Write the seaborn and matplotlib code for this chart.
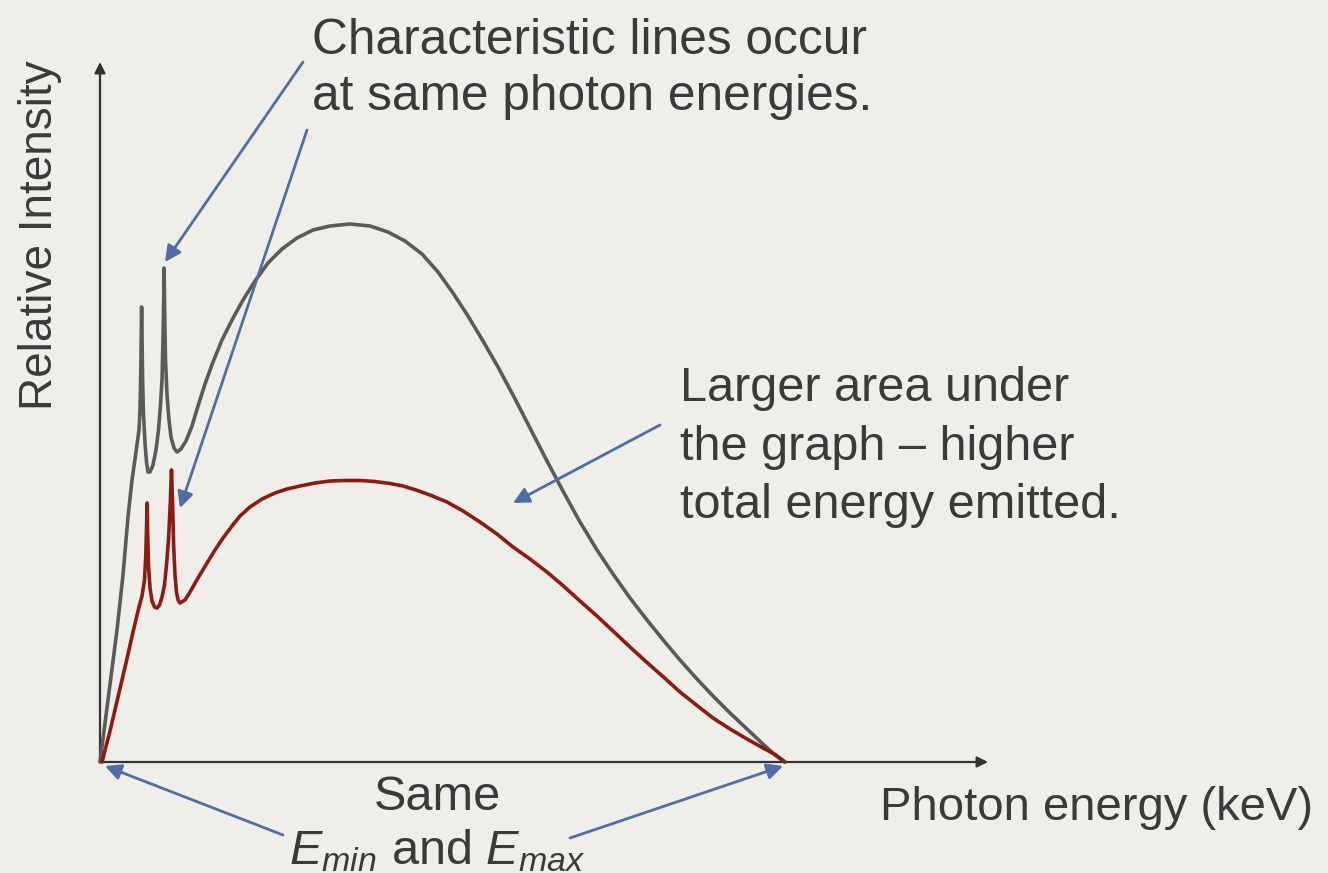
import matplotlib
matplotlib.use("Agg")
import matplotlib.pyplot as plt
import seaborn as sns
import pandas as pd

# ---- data (photon energy in keV-like units, Emin = 0, Emax = 137; relative intensity) ----
gray_energy = [0.0, 1.6, 3.4, 4.6, 5.6, 6.4, 7.2, 7.8, 8.0, 8.16, 8.26, 8.32, 8.4, 8.52,
               8.7, 9.0, 9.3, 9.6, 10.0, 10.6, 11.2, 11.7, 12.1, 12.4, 12.6, 12.74, 12.82,
               12.92, 13.1, 13.4, 13.8, 14.2, 14.8, 15.4, 16.2, 17.2, 18.4, 19.6, 21.0,
               22.6, 24.4, 26.4, 28.6, 31.0, 33.6, 36.4, 39.4, 42.6, 46.0, 50.0, 54.0,
               57.6, 61.0, 64.4, 67.6, 70.6, 73.6, 76.6, 79.6, 82.6, 86.0, 89.4, 92.8,
               96.0, 99.4, 102.6, 106.0, 109.4, 112.8, 116.0, 119.4, 122.6, 126.0, 129.4,
               132.8, 135.0, 137.0]
gray_intensity = [0.0, 12.4, 26.4, 37.4, 49.0, 56.4, 62.0, 66.4, 70.4, 78.4, 86.4, 91.0,
                  85.4, 76.4, 69.4, 63.8, 60.0, 58.0, 58.0, 59.4, 62.4, 66.4, 71.4, 76.4,
                  84.4, 92.4, 98.8, 90.4, 80.4, 73.4, 68.4, 65.0, 62.8, 62.0, 62.6, 64.2,
                  67.2, 71.2, 75.6, 80.0, 84.4, 88.4, 92.4, 96.2, 99.8, 102.6, 104.8, 106.4,
                  107.2, 107.6, 107.2, 106.0, 104.2, 101.6, 98.0, 93.8, 89.2, 84.2, 79.0,
                  73.4, 66.8, 60.2, 53.8, 48.0, 42.4, 37.6, 32.8, 28.4, 24.2, 20.4, 16.6,
                  13.2, 9.8, 6.6, 3.4, 1.4, 0.0]

red_energy = [0.4, 2.0, 3.6, 5.2, 6.6, 7.8, 8.4, 8.9, 9.16, 9.32, 9.42, 9.52, 9.7, 10.0,
              10.4, 10.9, 11.4, 11.9, 12.4, 12.9, 13.3, 13.7, 14.04, 14.3, 14.52, 14.72,
              15.0, 15.3, 15.6, 16.0, 17.0, 18.0, 19.6, 21.4, 23.0, 24.6, 26.4, 28.0,
              30.0, 32.4, 35.0, 37.4, 40.0, 43.0, 46.0, 49.0, 52.0, 55.0, 58.0, 60.6,
              63.2, 66.0, 69.4, 72.6, 76.0, 79.4, 82.6, 86.0, 89.4, 92.8, 96.0, 99.4,
              102.6, 106.0, 109.4, 112.8, 116.0, 119.4, 122.6, 126.0, 129.4, 132.8,
              135.0, 137.0]
red_intensity = [0.0, 6.2, 13.0, 19.8, 26.0, 31.0, 33.2, 36.4, 41.4, 47.4, 51.8, 46.4,
                 39.4, 34.8, 32.2, 31.0, 30.8, 31.4, 33.0, 35.4, 39.4, 44.4, 51.4, 58.4,
                 51.4, 43.4, 37.4, 34.0, 32.4, 31.8, 32.4, 34.0, 36.8, 39.8, 42.4, 44.8,
                 47.2, 49.2, 51.0, 52.6, 53.8, 54.6, 55.2, 55.8, 56.2, 56.3, 56.3, 56.1,
                 55.7, 55.2, 54.4, 53.4, 52.0, 50.2, 48.0, 45.6, 43.0, 40.6, 38.0, 35.1,
                 32.2, 29.2, 26.2, 23.0, 19.9, 16.9, 14.0, 11.3, 8.8, 6.6, 4.6, 2.7, 1.5,
                 0.0]

# ---- style ----
sns.set_theme(style="white")
plt.rcParams["font.family"] = ["Liberation Sans", "DejaVu Sans"]
plt.rcParams["mathtext.fontset"] = "custom"
plt.rcParams["mathtext.rm"] = "Liberation Sans"
plt.rcParams["mathtext.it"] = "Liberation Sans:italic"

BG = "#f0eee9"
TEXT = "#3a3a3a"
BLUE = "#4f6ea8"
GRAY = "#5a5a5a"
RED = "#8c1c12"
FS = 35

fig = plt.figure(figsize=(13.28, 8.73), dpi=100, facecolor=BG)
ax = fig.add_axes([0, 0, 1, 1])
ax.set_facecolor(BG)
ax.set_xlim(-20.0, 245.6)
ax.set_ylim(-22.2, 152.4)
ax.axis("off")

gray_df = pd.DataFrame({"E": gray_energy, "I": gray_intensity})
red_df = pd.DataFrame({"E": red_energy, "I": red_intensity})
sns.lineplot(data=gray_df, x="E", y="I", ax=ax, color=GRAY, lw=2.6, sort=False,
             estimator=None, zorder=3)
sns.lineplot(data=red_df, x="E", y="I", ax=ax, color=RED, lw=2.6, sort=False,
             estimator=None, zorder=4)
for ln in ax.get_lines():
    ln.set_solid_joinstyle("round")
    ln.set_solid_capstyle("round")

# axes arrows
axis_kw = dict(arrowstyle="-|>", color="#333333", lw=1.6, mutation_scale=16,
               shrinkA=0, shrinkB=0)
ax.annotate("", xy=(0, 140.0), xytext=(0, 0), arrowprops=axis_kw, zorder=2)
ax.annotate("", xy=(177.6, 0), xytext=(0, 0), arrowprops=axis_kw, zorder=2)

# annotation arrows
arr_kw = dict(arrowstyle="-|>", color=BLUE, lw=2.0, mutation_scale=24,
              shrinkA=0, shrinkB=0)
for tail, head in [((40.6, 140.0), (13.0, 100.0)),
                   ((41.4, 126.4), (16.0, 50.8)),
                   ((112.0, 67.4), (82.6, 51.8)),
                   ((36.6, -14.6), (1.0, -0.8)),
                   ((94.0, -15.2), (136.6, -0.8))]:
    ax.annotate("", xy=head, xytext=tail, arrowprops=arr_kw, zorder=5)

# texts
ax.text(-12.0, 105.4, "Relative Intensity", rotation=90, ha="center", va="center",
        fontsize=33, color=TEXT)
ax.text(42.4, 138.6, "Characteristic lines occur\nat same photon energies.",
        ha="left", va="center", fontsize=35.7, color=TEXT, linespacing=1.28)
ax.text(116.0, 63.0, "Larger area under\nthe graph \u2013 higher\ntotal energy emitted.",
        ha="left", va="center", fontsize=FS, color=TEXT, linespacing=1.38)
ax.text(67.4, -7.0, "Same", ha="center", va="center", fontsize=FS, color=TEXT)
ax.text(67.4, -17.8, r"$E_{min}$ and $E_{max}$", ha="center", va="center",
        fontsize=FS, color=TEXT)
ax.text(156.0, -9.2, "Photon energy (keV)", ha="left", va="center", fontsize=34,
        color=TEXT)

fig.savefig("out.png", dpi=100, facecolor=BG)
